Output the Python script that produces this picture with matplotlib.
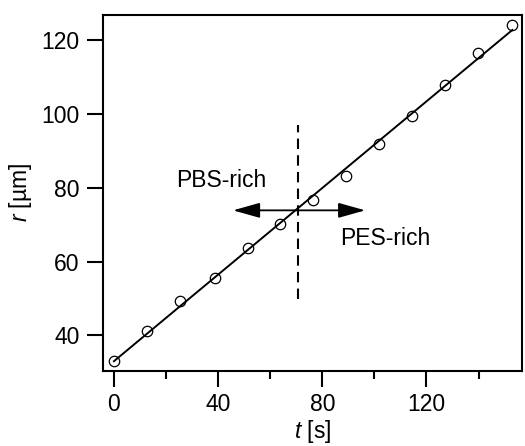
import numpy as np
import matplotlib
matplotlib.use("Agg")
import matplotlib.pyplot as plt
from matplotlib.ticker import MultipleLocator

# data
t_s = [0, 12.5, 25.5, 38.7, 51.6, 63.9, 76.6, 89.2, 101.8, 114.6, 127.2, 139.9, 153.0]
r_um = [33.2, 41.1, 49.2, 55.5, 63.7, 70.3, 76.6, 83.2, 91.8, 99.5, 107.8, 116.6, 124.0]
t_boundary = 70.7
boundary_span = [50, 97]
labels = ["PBS-rich", "PES-rich"]

plt.rcParams["font.family"] = ["Liberation Sans", "DejaVu Sans"]
plt.rcParams["mathtext.fontset"] = "custom"
plt.rcParams["mathtext.rm"] = "Liberation Sans"
plt.rcParams["mathtext.it"] = "Liberation Sans:italic"
plt.rcParams["font.size"] = 16.5

fig = plt.figure(figsize=(5.25, 4.46), dpi=100)
ax = fig.add_axes([102.5 / 525, 1 - 370.5 / 446, (522 - 102.5) / 525, (370.5 - 15) / 446])

# linear fit through the points
slope, intercept = np.polyfit(t_s, r_um, 1)
t_fit = np.array([t_s[0], t_s[-1]])
ax.plot(t_fit, slope * t_fit + intercept, color="black", lw=1.4, zorder=2)
ax.plot(t_s, r_um, "o", mfc="none", mec="black", ms=7.5, mew=0.9, zorder=3)

# boundary and arrows
ax.plot([t_boundary, t_boundary], boundary_span, color="black", lw=1.5,
        dashes=(5, 3), zorder=1)
y_arrow = slope * t_boundary + intercept - 0.6
for t_end in [45.7, 96.5]:
    ax.annotate("", xy=(t_end, y_arrow), xytext=(t_boundary, y_arrow),
                arrowprops=dict(arrowstyle="-|>,head_length=1.0,head_width=0.28",
                                color="black", lw=1.3, shrinkA=0, shrinkB=0))
ax.text(41.3, 82, labels[0], ha="center", va="center")
ax.text(104, 66.3, labels[1], ha="center", va="center")

ax.set_xlim(-4.4, 156.7)
ax.set_ylim(30.5, 126.8)
ax.xaxis.set_major_locator(MultipleLocator(40))
ax.xaxis.set_minor_locator(MultipleLocator(20))
ax.yaxis.set_major_locator(MultipleLocator(20))
ax.set_xticks([0, 40, 80, 120])

for s in ax.spines.values():
    s.set_linewidth(1.5)
ax.tick_params(axis="both", which="major", direction="out", length=11.5, width=1.5, pad=5)
ax.tick_params(axis="x", which="minor", direction="out", length=6, width=1.5)

ax.set_xlabel("$t$ [s]", labelpad=1)
ax.set_ylabel("$r$ [µm]", labelpad=5)

fig.savefig("out.png", dpi=100)
